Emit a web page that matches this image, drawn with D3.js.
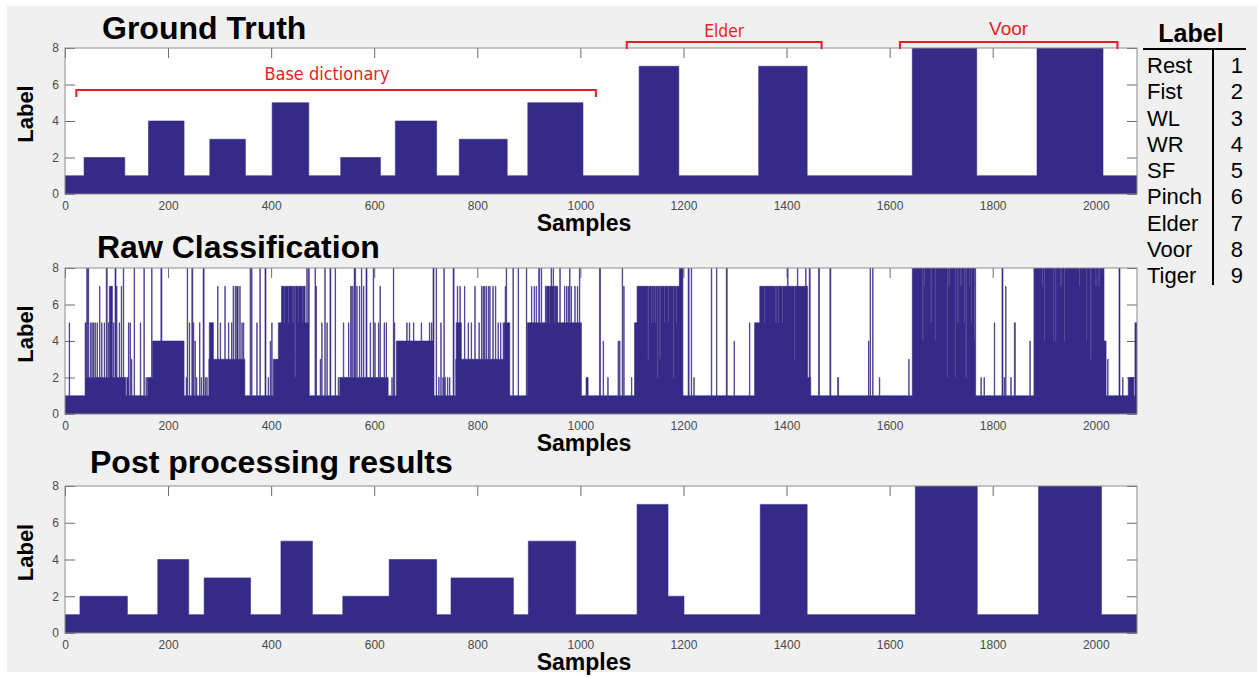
<!DOCTYPE html>
<html>
<head>
<meta charset="utf-8">
<script src="https://cdn.jsdelivr.net/npm/d3@7"></script>
<style>
    body { margin: 0; background: #fff; }
    svg { display: block; font-family: "Liberation Sans", Arial, sans-serif; }
</style>
</head>
<body>
<div id="chart"></div>
<script>
(function() {
    'use strict';

    // Data (samples where a label starts, label value until next start)
    var gtStarts = [0, 37, 116, 162, 231, 281, 350, 402, 473, 535, 612, 641, 721, 765, 858, 898, 1005, 1114, 1191, 1346, 1440, 1644, 1769, 1886, 2014];
    var gtValues = [1, 2, 1, 4, 1, 3, 1, 5, 1, 2, 1, 4, 1, 3, 1, 5, 1, 7, 1, 7, 1, 8, 1, 8, 1];

    var ppStarts = [0, 29, 121, 180, 240, 270, 360, 419, 480, 539, 629, 721, 749, 870, 899, 991, 1110, 1170, 1201, 1349, 1440, 1650, 1770, 1889, 2011];
    var ppValues = [1, 2, 1, 4, 1, 3, 1, 5, 1, 2, 4, 1, 3, 1, 5, 1, 7, 2, 1, 7, 1, 8, 1, 8, 1];

    // raw classification: dominant level per stretch ...
    var rawStarts = [0, 39, 118, 160, 170, 231, 279, 349, 404, 414, 420, 466, 474, 533, 627, 643, 716, 758, 852, 863, 897, 934, 956, 1002, 1105, 1110, 1192, 1199, 1338, 1348, 1441, 1447, 1644, 1767, 1880, 2016, 2020];
    var rawValues = [1, 2, 1, 2, 4, 1, 3, 1, 3, 5, 7, 5, 1, 2, 1, 4, 1, 3, 5, 1, 5, 7, 5, 1, 5, 7, 8, 1, 5, 7, 2, 1, 8, 1, 8, 4, 1];
    // ... and the short misclassified bursts on top of it: [sample, label, length]
    var rawBursts = [
        [8, 5, 1], [39, 5, 2], [42, 8, 2], [45, 8, 1], [49, 5, 1], [52, 5, 1], [55, 5, 1], [58, 5, 1], [62, 5, 1], [67, 7, 1],
        [71, 5, 1], [76, 5, 1], [80, 8, 2], [84, 5, 1], [86, 7, 6], [94, 5, 1], [97, 8, 2], [100, 7, 1], [105, 5, 1], [109, 7, 1], [113, 8, 1],
        [120, 2, 3], [123, 5, 1], [126, 5, 1], [129, 3, 1], [134, 8, 1], [146, 5, 1], [153, 8, 1], [157, 2, 1],
        [168, 8, 1], [186, 8, 2],
        [235, 2, 1], [237, 8, 1], [241, 5, 1], [246, 8, 2], [249, 5, 1], [252, 4, 1], [255, 2, 1], [261, 5, 1], [264, 2, 1], [268, 8, 2], [272, 2, 1], [275, 2, 1],
        [280, 5, 8], [296, 7, 1], [301, 5, 1], [310, 7, 1], [317, 5, 1], [323, 5, 1], [326, 7, 1], [330, 7, 1], [333, 7, 3], [339, 7, 1], [343, 5, 1], [346, 5, 1],
        [359, 8, 1], [362, 8, 1], [372, 5, 1], [378, 8, 1], [388, 8, 2], [394, 2, 1], [398, 4, 1], [401, 5, 1],
        [417, 5, 1], [425, 5, 1], [433, 5, 1], [442, 5, 1], [446, 2, 1], [453, 5, 1], [461, 5, 1], [469, 8, 1], [472, 8, 2],
        [485, 8, 1], [487, 7, 1], [495, 3, 1], [498, 5, 1], [504, 8, 1], [508, 5, 1], [514, 8, 2], [524, 8, 1], [530, 2, 1],
        [540, 5, 1], [550, 5, 1], [554, 7, 2], [558, 7, 1], [561, 8, 3], [566, 7, 1], [571, 7, 1], [575, 8, 1], [579, 7, 1], [584, 8, 2],
        [592, 5, 1], [598, 8, 1], [601, 5, 1], [608, 5, 1], [611, 7, 1], [619, 5, 1], [623, 5, 1],
        [634, 2, 1], [637, 8, 1], [639, 5, 1],
        [663, 5, 1], [668, 5, 1], [676, 5, 1], [691, 5, 1], [707, 5, 1], [711, 5, 1], [714, 8, 2], [720, 8, 1],
        [725, 2, 1], [729, 5, 1], [733, 2, 1], [735, 8, 1], [737, 2, 1], [742, 2, 1], [746, 2, 1], [753, 8, 2],
        [759, 5, 10], [761, 7, 1], [766, 7, 1], [775, 7, 1], [782, 5, 1], [788, 5, 1], [795, 7, 1], [803, 5, 1], [808, 7, 1], [811, 7, 1],
        [814, 7, 1], [817, 7, 1], [821, 7, 1], [824, 7, 1], [830, 7, 1], [835, 7, 1], [840, 5, 1], [845, 5, 1], [850, 5, 1],
        [854, 7, 1], [856, 8, 1], [869, 8, 1], [879, 8, 1], [895, 8, 1],
        [905, 7, 1], [910, 7, 1], [914, 7, 1], [919, 8, 2], [924, 8, 1], [932, 7, 1],
        [940, 5, 1], [950, 5, 1], [943, 8, 1], [947, 8, 1],
        [960, 8, 1], [969, 7, 1], [973, 7, 1], [976, 7, 1], [979, 8, 1], [982, 7, 1], [989, 7, 1], [994, 7, 1], [998, 8, 1],
        [1011, 2, 4], [1037, 8, 2], [1044, 4, 1], [1053, 2, 1], [1073, 4, 1], [1076, 4, 1], [1081, 8, 1], [1084, 7, 1], [1099, 2, 1],
        [1131, 3, 1], [1137, 5, 1], [1141, 5, 1], [1145, 5, 1], [1149, 2, 1], [1154, 3, 1], [1163, 5, 1], [1170, 5, 1], [1180, 2, 1], [1186, 5, 1],
        [1209, 8, 2], [1215, 8, 1], [1220, 2, 1], [1254, 8, 1], [1264, 8, 1], [1283, 8, 2], [1298, 4, 1], [1328, 5, 1],
        [1357, 5, 1], [1379, 5, 1], [1384, 5, 1], [1392, 5, 1], [1415, 3, 1], [1402, 8, 1], [1421, 8, 1], [1437, 8, 1],
        [1444, 8, 2], [1462, 8, 2], [1484, 8, 2], [1499, 2, 2], [1559, 4, 1], [1562, 8, 1], [1567, 8, 1], [1580, 2, 1], [1637, 3, 1],
        [1664, 4, 1], [1667, 7, 1], [1680, 5, 1], [1688, 4, 1], [1712, 2, 1], [1715, 7, 1], [1727, 2, 1], [1732, 5, 1], [1738, 7, 1],
        [1745, 5, 1], [1748, 2, 1], [1754, 7, 1], [1758, 5, 1], [1764, 4, 1],
        [1777, 2, 1], [1783, 2, 1], [1803, 5, 1], [1818, 8, 2], [1822, 2, 1], [1825, 7, 1], [1835, 2, 1], [1842, 5, 2], [1872, 4, 1],
        [1896, 7, 1], [1900, 4, 1], [1917, 4, 1], [1922, 4, 1], [1932, 7, 1], [1939, 4, 1], [1968, 7, 1], [1981, 4, 1], [1990, 3, 1],
        [2000, 7, 1], [2006, 7, 1],
        [2023, 3, 1], [2045, 8, 2], [2052, 2, 1], [2063, 2, 11], [2076, 5, 4]
    ];

    var sampleCount = 2080;
    var xTicks = [0, 200, 400, 600, 800, 1000, 1200, 1400, 1600, 1800, 2000];
    var yTicks = [0, 2, 4, 6, 8];

    var tableNames = ["Rest", "Fist", "WL", "WR", "SF", "Pinch", "Elder", "Voor", "Tiger"];
    var tableCodes = [1, 2, 3, 4, 5, 6, 7, 8, 9];

    // red brackets over the ground truth
    var groupFrom = [22, 1090, 1620];
    var groupTo = [1030, 1468, 2042];
    var groupNames = ["Base dictionary", "Elder", "Voor"];

    var fillColor = "#352a87";
    var red = "#ec1c24";

    // Create D3 Elements
    var svg = d3.select("#chart").append("svg")
        .attr("width", 1257)
        .attr("height", 677);

    svg.append("rect")
        .attr("x", 7).attr("y", 6)
        .attr("width", 1250).attr("height", 666)
        .attr("fill", "#f0f0f0");

    var xScale = d3.scaleLinear().domain([0, sampleCount]).range([65, 1137]);

    // Utility Methods
    var toSteps = function(starts, values, bursts) {
        var vals = [];
        var i, j;
        for (i = 0; i < starts.length; i++) {
            var end = i + 1 < starts.length ? starts[i + 1] : sampleCount;
            for (j = starts[i]; j < end; j++) vals[j] = values[i];
        }
        (bursts || []).forEach(function(b) {
            for (var k = b[0]; k < b[0] + b[2] && k < sampleCount; k++) vals[k] = b[1];
        });
        var pts = [];
        for (i = 0; i < sampleCount; i++) {
            if (i === 0 || vals[i] !== vals[i - 1]) pts.push({ x: i, y: vals[i] });
        }
        pts.push({ x: sampleCount, y: vals[sampleCount - 1] });
        return pts;
    };

    var styleText = function(s) {
        s.attr("font-size", 12).attr("fill", "#4a4a4a")
            .attr("font-family", "Liberation Sans, Arial, sans-serif");
    };

    var drawPanel = function(id, top, bottom, title, titleX, titleY, steps) {
        var yScale = d3.scaleLinear().domain([0, 8]).range([bottom, top]);
        var g = svg.append("g");

        g.append("clipPath").attr("id", "clip-" + id)
            .append("rect")
            .attr("x", 65).attr("y", top)
            .attr("width", 1072).attr("height", bottom - top);

        g.append("rect")
            .attr("x", 65).attr("y", top)
            .attr("width", 1072).attr("height", bottom - top)
            .attr("fill", "#fff");

        // inward ticks on all four sides (matlab style)
        var tickColor = "#6b6b6b";
        var noDomain = function(s) { s.select(".domain").remove(); s.selectAll("line").attr("stroke", tickColor); };
        g.append("g").attr("transform", "translate(0," + top + ")")
            .call(d3.axisBottom(xScale).tickValues(xTicks).tickSize(10).tickFormat(""))
            .call(noDomain);
        g.append("g").attr("transform", "translate(65,0)")
            .call(d3.axisRight(yScale).tickValues(yTicks).tickSize(10).tickFormat(""))
            .call(noDomain);
        g.append("g").attr("transform", "translate(1137,0)")
            .call(d3.axisLeft(yScale).tickValues(yTicks).tickSize(10).tickFormat(""))
            .call(noDomain);

        var area = d3.area()
            .curve(d3.curveStepAfter)
            .x(function(d) { return xScale(d.x); })
            .y0(yScale(0))
            .y1(function(d) { return yScale(d.y); });

        g.append("path")
            .datum(steps)
            .attr("clip-path", "url(#clip-" + id + ")")
            .attr("fill", fillColor)
            .attr("stroke", fillColor)
            .attr("stroke-width", 0.6)
            .attr("d", area);

        g.append("rect")
            .attr("x", 65).attr("y", top)
            .attr("width", 1072).attr("height", bottom - top)
            .attr("fill", "none")
            .attr("stroke", "#8c8c8c")
            .attr("stroke-width", 1);

        // tick labels
        var xAx = g.append("g").attr("transform", "translate(0," + bottom + ")")
            .call(d3.axisBottom(xScale).tickValues(xTicks).tickSize(0).tickPadding(7).tickFormat(d3.format("d")));
        xAx.select(".domain").remove();
        xAx.selectAll("text").call(styleText);

        var yAx = g.append("g").attr("transform", "translate(65,0)")
            .call(d3.axisLeft(yScale).tickValues(yTicks).tickSize(0).tickPadding(6).tickFormat(d3.format("d")));
        yAx.select(".domain").remove();
        yAx.selectAll("text").call(styleText);

        g.append("text")
            .attr("x", titleX).attr("y", titleY)
            .attr("font-size", 32).attr("font-weight", "bold")
            .text(title);

        g.append("text")
            .attr("x", 584).attr("y", bottom + 37)
            .attr("text-anchor", "middle")
            .attr("font-size", 23).attr("font-weight", "bold")
            .text("Samples");

        g.append("text")
            .attr("transform", "translate(33," + ((top + bottom) / 2 - 7) + ") rotate(-90)")
            .attr("text-anchor", "middle")
            .attr("font-size", 22).attr("font-weight", "bold")
            .text("Label");
    };

    drawPanel("gt", 48, 194, "Ground Truth", 102, 39, toSteps(gtStarts, gtValues));
    drawPanel("raw", 268, 414, "Raw Classification", 97, 258, toSteps(rawStarts, rawValues, rawBursts));
    drawPanel("pp", 486, 633, "Post processing results", 90, 473, toSteps(ppStarts, ppValues));

    // Red group brackets
    var bracketY = [90, 42, 42];
    var textY = [80, 37, 35];
    groupNames.forEach(function(name, i) {
        var x1 = xScale(groupFrom[i]), x2 = xScale(groupTo[i]), y = bracketY[i];
        svg.append("path")
            .attr("d", "M" + x1 + "," + (y + 7) + "V" + y + "H" + x2 + "V" + (y + 7))
            .attr("fill", "none")
            .attr("stroke", red)
            .attr("stroke-width", 2);
        var t = svg.append("text")
            .attr("x", i === 0 ? 327 : (x1 + x2) / 2)
            .attr("y", textY[i])
            .attr("text-anchor", "middle")
            .attr("fill", red)
            .text(name);
        if (i < 2) {
            t.attr("font-family", "DejaVu Sans Condensed, DejaVu Sans, sans-serif")
                .attr("font-size", 17)
                .attr("textLength", i === 0 ? 125 : 40)
                .attr("lengthAdjust", "spacingAndGlyphs");
        } else {
            t.attr("font-size", 19);
        }
    });

    // Label table
    var table = svg.append("g");
    table.append("text")
        .attr("x", 1191).attr("y", 42)
        .attr("text-anchor", "middle")
        .attr("font-size", 25).attr("font-weight", "bold")
        .text("Label");
    table.append("line")
        .attr("x1", 1143).attr("x2", 1246).attr("y1", 49).attr("y2", 49)
        .attr("stroke", "#000").attr("stroke-width", 2);
    table.append("line")
        .attr("x1", 1213).attr("x2", 1213).attr("y1", 49).attr("y2", 285)
        .attr("stroke", "#000").attr("stroke-width", 2);
    tableNames.forEach(function(n, i) {
        var y = 73 + i * 26.25;
        table.append("text").attr("x", 1147).attr("y", y)
            .attr("font-size", 22).text(n);
        table.append("text").attr("x", 1243).attr("y", y)
            .attr("text-anchor", "end")
            .attr("font-size", 22).text(tableCodes[i]);
    });

})();
</script>
</body>
</html>
